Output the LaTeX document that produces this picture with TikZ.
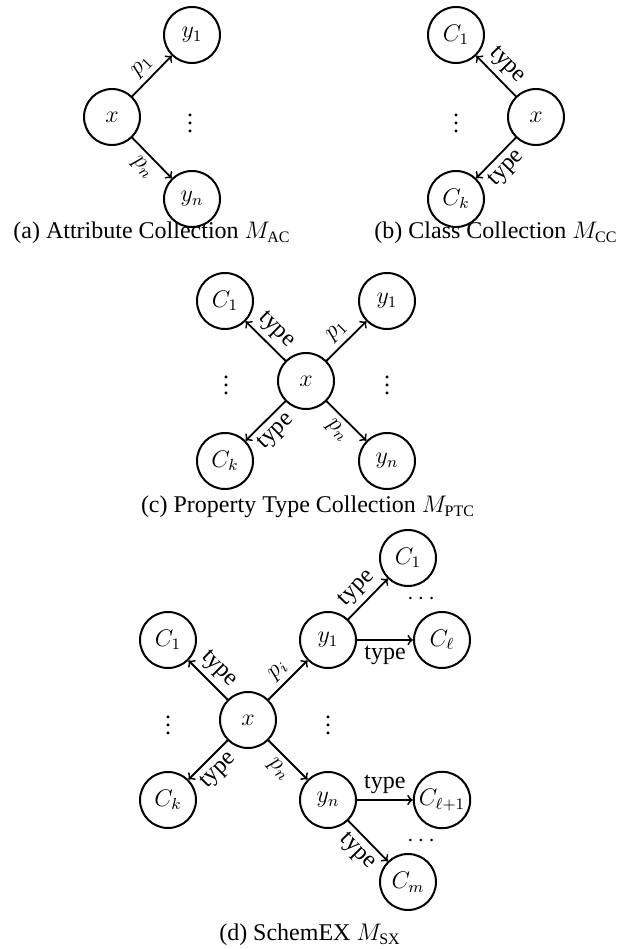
\documentclass[tikz,border=0pt,12pt]{standalone}
\usepackage{amsmath}
\usepackage[no-math]{fontspec}
\setmainfont{Liberation Serif}
\tikzset{
  ent/.style={circle,draw,line width=1pt,minimum size=28pt,inner sep=1pt},
  rel/.style={->,line width=0.9pt},
  lab/.style={midway,sloped,inner sep=2.5pt}
}
\begin{document}
\begin{tikzpicture}[x=20pt,y=20pt,>=to,line cap=round]
	\useasboundingbox (0,0) rectangle (15.525,23.725);
	% (a)
	\node[ent] (ax) at (2.8,20.8) {$x$};
	\node[ent] (ay1) at (4.8,22.85) {$y_1$};
	\node[ent] (ayn) at (4.8,18.75) {$y_n$};
	\node (adots) at (4.75,20.8) {$\vdots$};
	\draw[rel] (ax) -- node[lab,above]{$p_1$} (ay1);
	\draw[rel] (ax) -- node[lab,below]{$p_n$} (ayn);
	\node (acap) at (3.8,17.9) {(a) Attribute Collection $M_{\text{AC}}$};
	% (b)
	\node[ent] (bx) at (13.4,20.8) {$x$};
	\node[ent] (bc1) at (11.4,22.85) {$C_1$};
	\node[ent] (bck) at (11.4,18.75) {$C_k$};
	\node (bdots) at (11.4,20.8) {$\vdots$};
	\draw[rel] (bx) -- node[lab,above]{type} (bc1);
	\draw[rel] (bx) -- node[lab,below]{type} (bck);
	\node (bcap) at (12.4,17.9) {(b) Class Collection $M_{\text{CC}}$};
	% (c)
	\node[ent] (cx) at (7.65,14.2) {$x$};
	\node[ent] (cc1) at (5.625,16.2) {$C_1$};
	\node[ent] (cck) at (5.625,12.2) {$C_k$};
	\node[ent] (cy1) at (9.675,16.2) {$y_1$};
	\node[ent] (cyn) at (9.675,12.2) {$y_n$};
	\node (cldots) at (5.65,14.25) {$\vdots$};
	\node (crdots) at (9.675,14.25) {$\vdots$};
	\draw[rel] (cx) -- node[lab,above]{type} (cc1);
	\draw[rel] (cx) -- node[lab,below]{type} (cck);
	\draw[rel] (cx) -- node[lab,above]{$p_1$} (cy1);
	\draw[rel] (cx) -- node[lab,below]{$p_n$} (cyn);
	\node (ccap) at (7.7,11.05) {(c) Property Type Collection $M_{\text{PTC}}$};
	% (d)
	\node[ent] (dx) at (6.2,5.725) {$x$};
	\node[ent] (dc1) at (4.2,7.725) {$C_1$};
	\node[ent] (dck) at (4.2,3.725) {$C_k$};
	\node[ent] (dy1) at (8.2,7.725) {$y_1$};
	\node[ent] (dyn) at (8.2,3.725) {$y_n$};
	\node[ent] (dd1) at (10.2,9.775) {$C_1$};
	\node[ent] (ddl) at (11.05,7.725) {$C_\ell$};
	\node[ent] (ddl1) at (11.05,3.725) {$C_{\ell+1}$};
	\node[ent] (ddm) at (10.2,1.675) {$C_m$};
	\node (dldots) at (4.2,5.75) {$\vdots$};
	\node (drdots) at (8.2,5.75) {$\vdots$};
	\node (dudots) at (10.575,8.75) {$\cdots$};
	\node (dbdots) at (10.575,2.7) {$\cdots$};
	\draw[rel] (dx) -- node[lab,above]{type} (dc1);
	\draw[rel] (dx) -- node[lab,below]{type} (dck);
	\draw[rel] (dx) -- node[lab,above]{$p_i$} (dy1);
	\draw[rel] (dx) -- node[lab,below]{$p_n$} (dyn);
	\draw[rel] (dy1) -- node[lab,above]{type} (dd1);
	\draw[rel] (dy1) -- node[lab,below]{type} (ddl);
	\draw[rel] (dyn) -- node[lab,above]{type} (ddl1);
	\draw[rel] (dyn) -- node[lab,below]{type} (ddm);
	\node (dcap) at (7.75,0.35) {(d) SchemEX $M_{\text{SX}}$};
\end{tikzpicture}
\end{document}
